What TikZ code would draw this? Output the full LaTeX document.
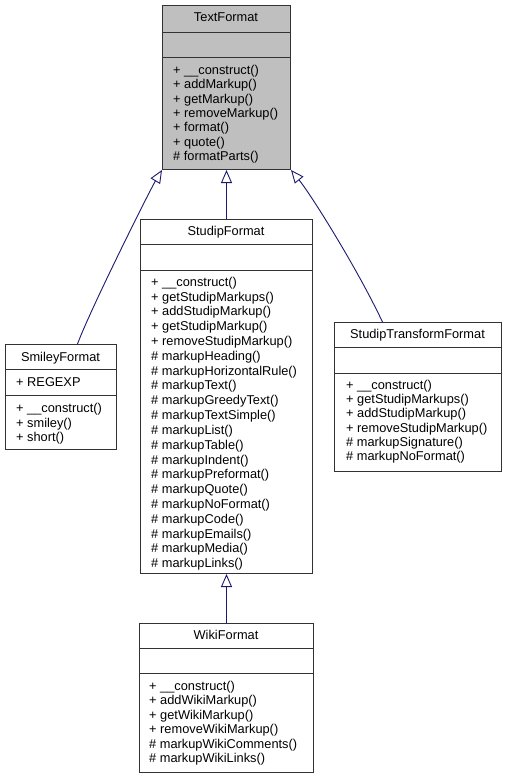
\documentclass[tikz,border=0pt]{standalone}
\usepackage{fontspec}
\setmainfont{Liberation Sans}
\usetikzlibrary{arrows.meta}
\definecolor{edgeblue}{RGB}{25,25,112}
\definecolor{boxgray}{RGB}{191,191,191}
\definecolor{boxline}{RGB}{50,50,50}
\begin{document}
\begin{tikzpicture}[x=1pt,y=-1pt,
  cls/.style={draw=boxline, line width=1pt, fill=white, inner sep=0pt, anchor=north west},
  divider/.style={draw=boxline, line width=1pt},
  ttl/.style={font=\fontsize{12.8}{14}\selectfont, inner sep=0pt, anchor=base},
  mem/.style={font=\fontsize{12.8}{14}\selectfont, inner sep=0pt, anchor=base west},
  inh/.style={draw=edgeblue, line width=0.9pt, -{Triangle[open, length=13pt, width=11pt]}}]
\useasboundingbox (0,0) rectangle (506,779);

% TextFormat
\node[cls, fill=boxgray, minimum width=128pt, minimum height=164pt] (tf) at (162,5) {};
\draw[divider] (162,32) -- (290,32);
\draw[divider] (162,57) -- (290,57);
\node[ttl] (tft) at (226,21.7) {TextFormat};
\foreach \t [count=\i from 0] in {+ \_\_construct(),+ addMarkup(),+ getMarkup(),+ removeMarkup(),+ format(),+ quote(),\# formatParts()}
  \node[mem] (tfm\i) at (173,74.5+\i*14.3) {\t};

% StudipFormat
\node[cls, minimum width=172pt, minimum height=354pt] (sf) at (140,219) {};
\draw[divider] (140,244) -- (312,244);
\draw[divider] (140,270) -- (312,270);
\node[ttl] (sft) at (226,235.5) {StudipFormat};
\foreach \t [count=\i from 0] in {+ \_\_construct(),+ getStudipMarkups(),+ addStudipMarkup(),+ getStudipMarkup(),+ removeStudipMarkup(),\# markupHeading(),\# markupHorizontalRule(),\# markupText(),\# markupGreedyText(),\# markupTextSimple(),\# markupList(),\# markupTable(),\# markupIndent(),\# markupPreformat(),\# markupQuote(),\# markupNoFormat(),\# markupCode(),\# markupEmails(),\# markupMedia(),\# markupLinks()}
  \node[mem] (sfm\i) at (151,286.2+\i*14.82) {\t};

% SmileyFormat
\node[cls, minimum width=111pt, minimum height=105pt] (sm) at (5,344) {};
\draw[divider] (5,369) -- (116,369);
\draw[divider] (5,395) -- (116,395);
\node[ttl] (smt) at (60.5,361) {SmileyFormat};
\node[mem] (sma) at (16,386.2) {+ REGEXP};
\foreach \t [count=\i from 0] in {+ \_\_construct(),+ smiley(),+ short()}
  \node[mem] (smm\i) at (16,412.8+\i*14.2) {\t};

% StudipTransformFormat
\node[cls, minimum width=167pt, minimum height=149pt] (stf) at (334,322) {};
\draw[divider] (334,347) -- (501,347);
\draw[divider] (334,373) -- (501,373);
\node[ttl] (stft) at (417.5,338) {StudipTransformFormat};
\foreach \t [count=\i from 0] in {+ \_\_construct(),+ getStudipMarkups(),+ addStudipMarkup(),+ removeStudipMarkup(),\# markupSignature(),\# markupNoFormat()}
  \node[mem] (stfm\i) at (346,389.5+\i*14.2) {\t};

% WikiFormat
\node[cls, minimum width=174pt, minimum height=149pt] (wf) at (139,623) {};
\draw[divider] (139,648) -- (313,648);
\draw[divider] (139,673) -- (313,673);
\node[ttl] (wft) at (226,639.5) {WikiFormat};
\foreach \t [count=\i from 0] in {+ \_\_construct(),+ addWikiMarkup(),+ getWikiMarkup(),+ removeWikiMarkup(),\# markupWikiComments(),\# markupWikiLinks()}
  \node[mem] (wfm\i) at (149,690.5+\i*14.45) {\t};

% inheritance connectors
\draw[inh] ([xshift=16.5pt]sm.north) .. controls (90,310) and (150,190) .. (tf.south west);
\draw[inh] (sf.north) -- (tf.south);
\draw[inh] ([xshift=-35.5pt]stf.north) .. controls (358,270) and (312,196) .. (tf.south east);
\draw[inh] (wf.north) -- (sf.south);
\end{tikzpicture}
\end{document}
